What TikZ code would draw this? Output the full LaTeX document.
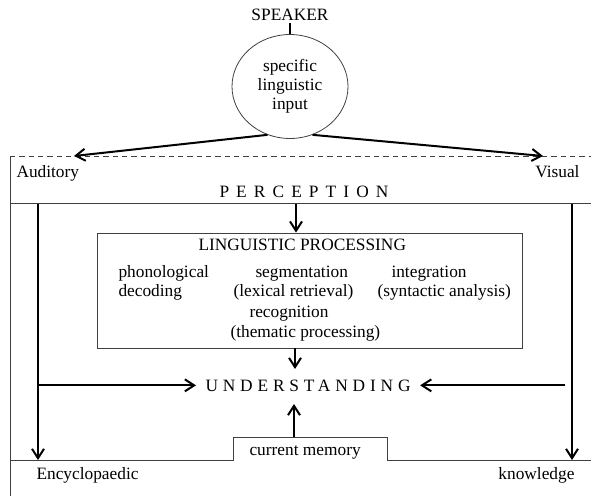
\documentclass[tikz,border=0pt]{standalone}
\usepackage{fontspec}
\setmainfont{Liberation Serif}
\usetikzlibrary{arrows.meta,shapes.geometric}

\tikzset{every picture/.style={line width=0.75pt}}
\tikzset{
  lbl/.style={inner sep=0.75pt,font=\fontsize{13}{14.3}\selectfont},
  frame/.style={draw=black!75,line width=0.6pt},
  flow/.style={line width=1.5pt,-{Straight Barb[length=7pt,width=9pt]}},
}

\begin{document}
\begin{tikzpicture}[x=0.75pt,y=0.75pt,yscale=-1,xscale=1]
	\useasboundingbox (0,0) rectangle (591,496);

	% Text Node
	\draw (290,21) node [lbl,anchor=base] (speaker) {SPEAKER};
	%Shape: Ellipse
	\draw (290,86.5) node [lbl,frame,ellipse,minimum width=87pt,minimum height=78pt,inner sep=0pt,align=center] (input) {specific\\linguistic\\input};
	%Straight Lines
	\draw [line width=1.5pt] (speaker.south) -- (input.north);

	%Frame lines
	\draw [frame,dash pattern={on 4pt off 3pt}] (10,156) -- (591,156);
	\draw [frame] (10,156) -- (10,496);
	\draw [frame] (10,203.5) -- (591,203.5);
	\draw [frame] (10,460) -- (233,460) -- (233,437) -- (387,437) -- (387,460) -- (591,460);

	\coordinate (aud) at (74,156);
	\coordinate (vis) at (543,156);
	\draw [flow] (input.245) -- (aud);
	\draw [flow] (input.295) -- (vis);

	% Text Node
	\draw (15,177) node [lbl,anchor=base west] (auditory) {Auditory};
	% Text Node
	\draw (581,177) node [lbl,anchor=base east] (visual) {Visual};
	% Text Node
	\draw (218,197) node [lbl,anchor=base west] (perception) {\addfontfeature{LetterSpace=41}PERCEPTION};

	%Shape: Rectangle
	\draw (309.5,290.5) node [frame,minimum width=318.75pt,minimum height=86.25pt] (ling) {};
	% Text Node
	\draw (197,250) node [lbl,anchor=base west] (lingtitle) {LINGUISTIC PROCESSING};
	% Text Node
	\draw (117,277) node [lbl,anchor=base west] (phon) {phonological};
	\draw (117,296) node [lbl,anchor=base west] (decod) {decoding};
	\draw (254,277) node [lbl,anchor=base west] (segm) {segmentation};
	\draw (232,296) node [lbl,anchor=base west] (lexret) {(lexical retrieval)};
	\draw (390,277) node [lbl,anchor=base west] (integr) {integration};
	\draw (376,296) node [lbl,anchor=base west] (synt) {(syntactic analysis)};
	\draw (248,317) node [lbl,anchor=base west] (recog) {recognition};
	\draw (229,337) node [lbl,anchor=base west] (them) {(thematic processing)};

	% Text Node
	\draw (204,391) node [lbl,anchor=base west] (under) {\addfontfeature{LetterSpace=28}UNDERSTANDING};
	% Text Node
	\draw (248,455) node [lbl,anchor=base west] (memory) {current memory};
	% Text Node
	\draw (35,479) node [lbl,anchor=base west] (encyc) {Encyclopaedic};
	% Text Node
	\draw (576,479) node [lbl,anchor=base east] (knowl) {knowledge};

	%Arrows
	\coordinate (pin) at (296,203.5);
	\draw [flow] (pin) -- (pin |- ling.north);
	\coordinate (u1) at (295,369);
	\draw [flow] (ling.south -| u1) -- (u1);
	\coordinate (memtop) at (294,437);
	\coordinate (u2) at (294,404);
	\draw [flow] (memtop) -- (u2);

	\coordinate (lt) at (38,203.5);
	\coordinate (lb) at (38,460);
	\coordinate (rt) at (572,203.5);
	\coordinate (rb) at (572,460);
	\draw [flow] (lt) -- (lb);
	\draw [flow] (rt) -- (rb);
	\draw [flow,shorten >=6pt] (lt |- under.west) -- (under.west);
	\draw [flow,shorten >=6pt] ([xshift=-5pt]rt |- under.east) -- (under.east);

\end{tikzpicture}
\end{document}
